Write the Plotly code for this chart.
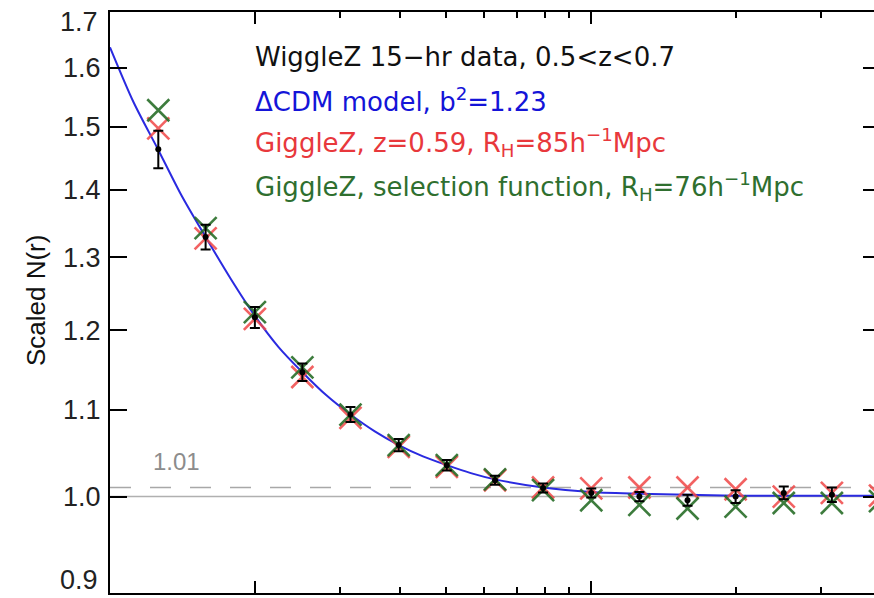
import plotly.graph_objects as go

# ---- data ----
r = [12.6, 15.8, 20.0, 25.1, 31.6, 39.8, 50.1, 63.1, 79.4, 100.0, 125.9, 158.5,
     199.5, 251.2, 316.2, 398.1]
wigglez = [1.463, 1.329, 1.217, 1.146, 1.094, 1.058, 1.035, 1.018, 1.0095, 1.004,
           1.000, 0.996, 1.000, 1.004, 1.002, 1.000]
wigglez_err = [0.030, 0.018, 0.014, 0.011, 0.009, 0.007, 0.006, 0.005, 0.005, 0.005,
               0.005, 0.006, 0.007, 0.007, 0.008, 0.008]
gigglez_z059 = [1.497, 1.327, 1.215, 1.140, 1.090, 1.056, 1.033, 1.018, 1.010, 1.009,
                1.010, 1.010, 1.008, 1.000, 1.004, 1.001]
gigglez_sel = [1.527, 1.342, 1.224, 1.152, 1.094, 1.058, 1.035, 1.019, 1.007, 0.996,
               0.991, 0.987, 0.989, 0.993, 0.993, 0.995]
model_r = [10.0, 11.2, 12.6, 14.1, 15.8, 17.8, 20.0, 22.4, 25.1, 28.2, 31.6, 35.5,
           39.8, 44.7, 50.1, 56.2, 63.1, 79.4, 100.0, 125.9, 158.5, 199.5, 251.2,
           316.2, 398.1]
model_n = [1.636, 1.54, 1.462, 1.39, 1.329, 1.27, 1.219, 1.178, 1.146, 1.117, 1.094,
           1.074, 1.058, 1.045, 1.035, 1.026, 1.019, 1.010, 1.005, 1.003, 1.002,
           1.001, 1.001, 1.001, 1.001]
ref_r = [10.0, 400.0]
ref_one = [1.0, 1.0]
ref_dash = [1.01, 1.01]

y_ticks = [0.9, 1.0, 1.1, 1.2, 1.3, 1.4, 1.5, 1.6, 1.7]
# the two end labels sit slightly inside the frame in the reference; drawn separately
y_ticktext = ["", "1.0", "1.1", "1.2", "1.3", "1.4", "1.5", "1.6", ""]
end_labels = [("0.9", -0.0065, "bottom"), ("1.7", 0.9828, "middle")]
x_major = [10, 20, 100]
x_minor = [30, 40, 50, 60, 70, 80, 90, 200, 300, 400]

legend_lines = [
    ("WiggleZ 15\u2212hr data, 0.5&lt;z&lt;0.7", "#111111"),
    ("\u0394CDM model, b<sup>2</sup>=1.23", "#1414d8"),
    ("GiggleZ, z=0.59, R<sub>H</sub>=85h<sup>\u22121</sup>Mpc", "#e8383c"),
    ("GiggleZ, selection function, R<sub>H</sub>=76h<sup>\u22121</sup>Mpc", "#2f6f2f"),
]

RED = "rgba(240,70,70,0.85)"
GREEN = "rgba(40,110,40,0.9)"
BLUE = "#2a2ae0"
TICKFONT = dict(family="Liberation Sans", size=27, color="#222222")

Y_RANGE = [-0.04590, 0.23060]

fig = go.Figure()

fig.add_trace(go.Scatter(x=ref_r, y=ref_one, mode="lines",
                         line=dict(color="#b0b0b0", width=1.6), hoverinfo="skip"))
fig.add_trace(go.Scatter(x=ref_r, y=ref_dash, mode="lines",
                         line=dict(color="#a8a8a8", width=1.6, dash="21px,19px"),
                         hoverinfo="skip"))
fig.add_trace(go.Scatter(x=model_r, y=model_n, mode="lines",
                         line=dict(color=BLUE, width=2, shape="spline", smoothing=0.8)))
fig.add_trace(go.Scatter(x=r, y=gigglez_z059, mode="markers",
                         marker=dict(symbol="x-thin", size=22,
                                     line=dict(color=RED, width=2.6))))
fig.add_trace(go.Scatter(x=r, y=gigglez_sel, mode="markers",
                         marker=dict(symbol="x-thin", size=22,
                                     line=dict(color=GREEN, width=2.6))))
fig.add_trace(go.Scatter(x=r, y=wigglez, mode="markers",
                         marker=dict(symbol="circle", size=6, color="#000000"),
                         error_y=dict(type="data", array=wigglez_err, color="#000000",
                                      thickness=2, width=5)))
# invisible trace on the right-hand y axis (carries the right-side ticks)
fig.add_trace(go.Scatter(x=[r[0]], y=[wigglez[0]], yaxis="y2", mode="markers",
                         marker=dict(opacity=0), hoverinfo="skip"))

annotations = []
y_line = [0.922, 0.849, 0.775, 0.699]
for (txt, col), yy in zip(legend_lines, y_line):
    annotations.append(dict(xref="paper", yref="paper", x=0.187, y=yy,
                            xanchor="left", yanchor="middle", showarrow=False,
                            text=txt, font=dict(family="DejaVu Sans", size=26, color=col)))
for txt, yy, ya in end_labels:
    annotations.append(dict(xref="paper", yref="paper", x=-0.0131, y=yy,
                            xanchor="right", yanchor=ya, showarrow=False,
                            text=txt, font=TICKFONT))
annotations.append(dict(xref="paper", yref="paper", x=0.0864, y=0.2255,
                        xanchor="center", yanchor="middle", showarrow=False,
                        text="1.01", font=dict(family="Liberation Sans", size=24,
                                               color="#8c8c8c")))
annotations.append(dict(xref="paper", yref="paper", x=-0.097, y=0.504,
                        xanchor="center", yanchor="middle", showarrow=False,
                        textangle=-90, text="Scaled N(r)",
                        font=dict(family="Liberation Sans", size=26, color="#111111")))

fig.update_layout(
    width=874, height=598,
    margin=dict(l=110, r=0, t=12, b=5, pad=0),
    paper_bgcolor="white", plot_bgcolor="white",
    showlegend=False,
    annotations=annotations,
    xaxis=dict(type="log", range=[1.0, 2.5875], showgrid=False, zeroline=False,
               showline=True, linecolor="#000000", linewidth=2, mirror="ticks",
               ticks="inside", tickvals=x_major, ticklen=12, tickwidth=2,
               tickcolor="#000000", showticklabels=False,
               minor=dict(tickvals=x_minor, ticks="inside", ticklen=6,
                          tickwidth=2, tickcolor="#000000", showgrid=False)),
    yaxis=dict(type="log", range=Y_RANGE, showgrid=False,
               zeroline=False, showline=True, linecolor="#000000", linewidth=2,
               ticks="inside", tickvals=y_ticks, ticktext=y_ticktext, ticklen=17,
               tickwidth=2, tickcolor="#000000", ticklabelstandoff=2,
               tickfont=TICKFONT),
    yaxis2=dict(type="log", range=Y_RANGE, overlaying="y",
                side="right", showgrid=False, zeroline=False, showline=False,
                ticks="inside", tickvals=y_ticks, ticklen=11, tickwidth=2,
                tickcolor="#000000", showticklabels=False),
)

fig.write_html("out.html")
